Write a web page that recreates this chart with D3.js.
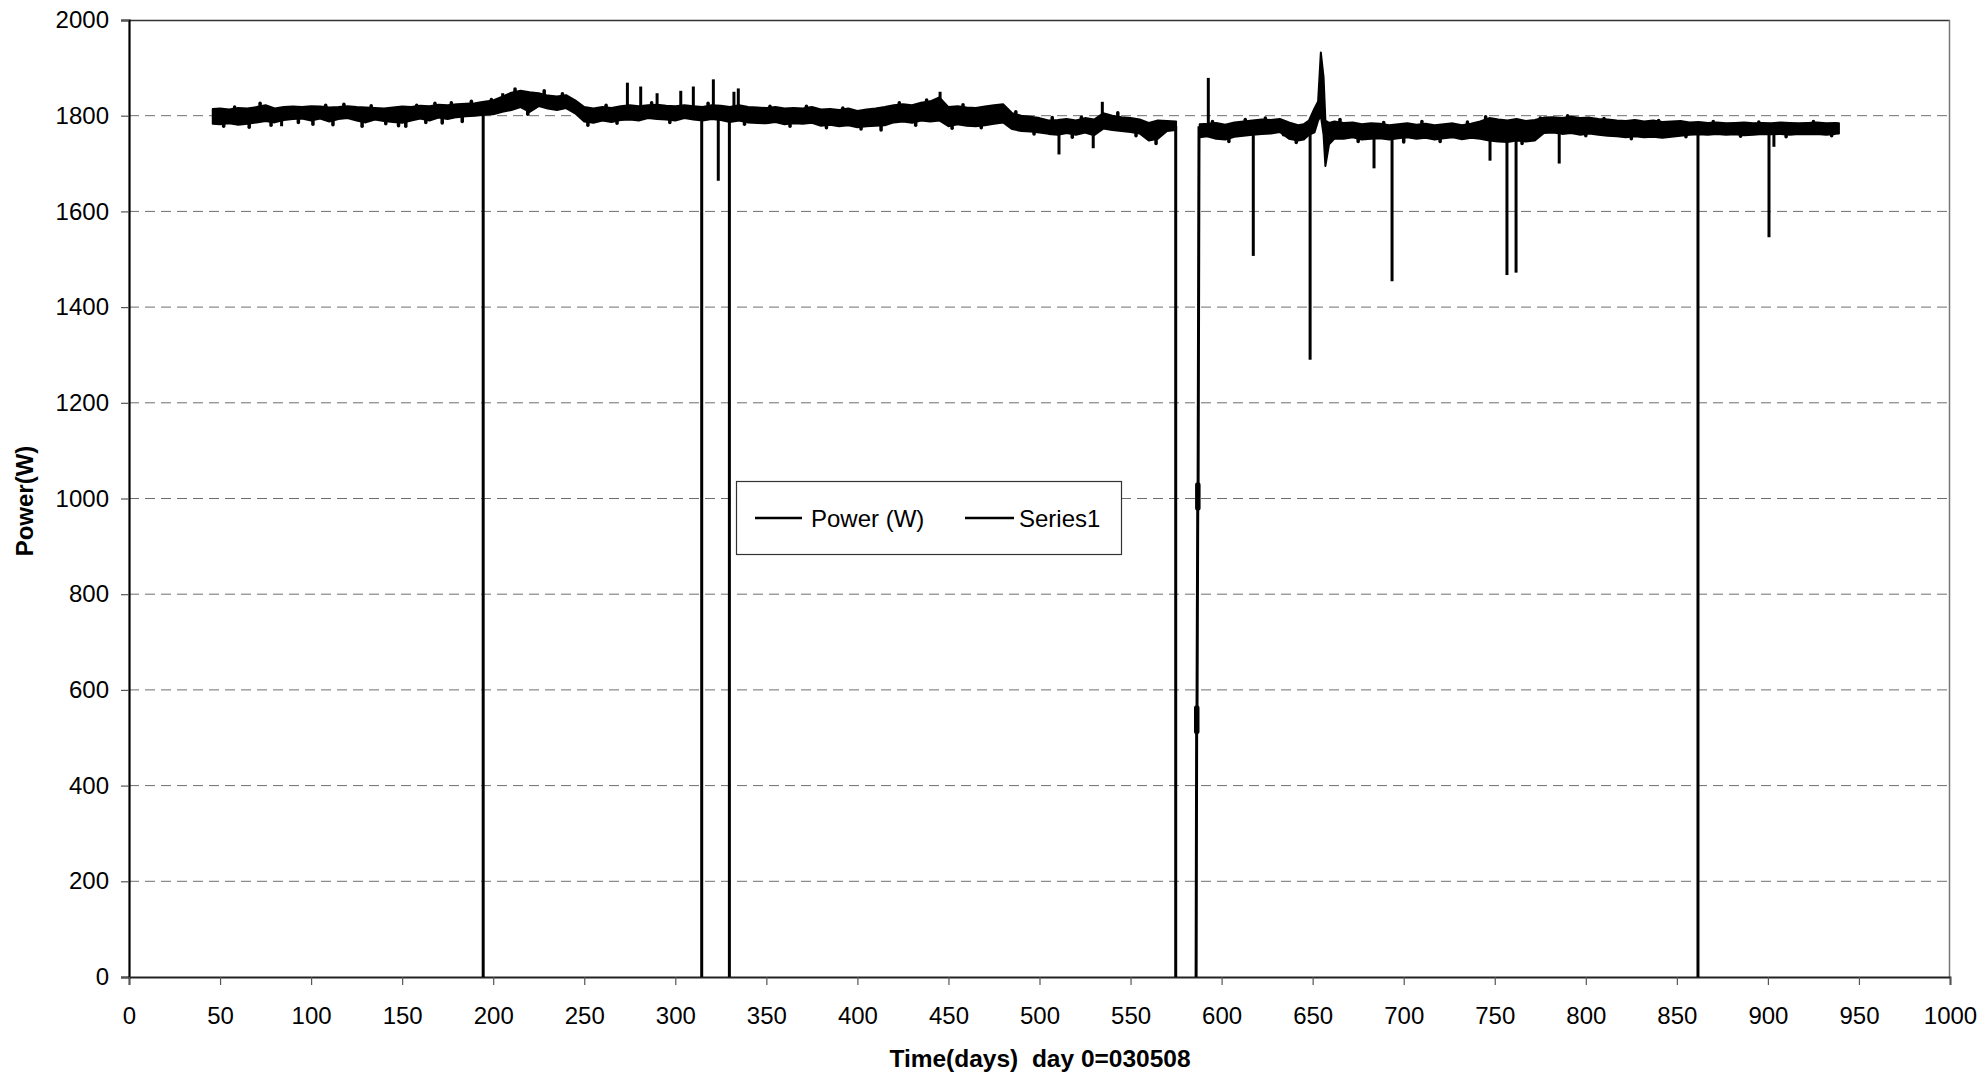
<!DOCTYPE html>
<html>
<head>
<meta charset="utf-8">
<script src="https://cdn.jsdelivr.net/npm/d3@7"></script>
<style>
  html, body { margin: 0; padding: 0; background: #fff; }
  svg { display: block; }
  text { font-family: "Liberation Sans", Arial, sans-serif; fill: #000; }
</style>
</head>
<body>
<svg id="chart" width="1986" height="1077"></svg>
<script>
// ---------------- DATA ----------------
const xTicks = [0,50,100,150,200,250,300,350,400,450,500,550,600,650,700,750,800,850,900,950,1000];
const yTicks = [0,200,400,600,800,1000,1200,1400,1600,1800,2000];
const seriesNames = ["Power (W)", "Series1"];

// Band of the noisy power trace: day, upper and lower envelope (W). null = no data.
const bandDay = [46,50,55,60,65,70,75,80,85,90,95,100,105,110,115,120,125,130,135,140,145,150,155,160,165,170,175,180,185,190,195,200,205,210,215,220,225,230,235,240,245,250,255,260,265,270,275,280,285,290,295,300,305,310,315,320,325,330,335,340,345,350,355,360,365,370,375,380,385,390,395,400,405,410,415,420,425,430,435,440,445,450,455,460,465,470,475,480,485,490,495,500,505,510,515,520,525,530,535,540,545,550,555,560,565,570,575,
  580,
  588,592,597,602,607,612,617,622,627,632,637,642,645,648,651,653,654.5,656,657,659,662,667,672,677,682,687,692,697,702,707,712,717,722,727,732,737,742,747,752,757,762,767,772,777,782,787,792,797,802,807,812,817,822,827,832,837,842,847,852,857,862,867,872,877,882,887,892,897,902,907,912,917,922,927,932,937,939];
const bandHigh = [1814,1815,1813,1816,1815,1818,1822,1815,1818,1819,1818,1820,1819,1817,1818,1820,1818,1817,1816,1815,1817,1819,1818,1821,1820,1823,1822,1824,1825,1826,1829,1832,1840,1848,1852,1849,1847,1842,1840,1843,1832,1818,1815,1818,1816,1820,1822,1820,1822,1823,1821,1820,1822,1820,1818,1822,1821,1818,1822,1818,1817,1816,1818,1815,1816,1815,1818,1813,1814,1812,1815,1810,1813,1815,1818,1822,1824,1822,1827,1830,1838,1818,1820,1817,1816,1819,1822,1824,1805,1800,1798,1795,1790,1791,1793,1790,1795,1792,1805,1800,1797,1795,1792,1785,1790,1789,1788,
  null,
  1782,1783,1785,1781,1786,1788,1790,1792,1791,1793,1786,1780,1782,1790,1815,1830,1932,1880,1790,1785,1788,1785,1786,1782,1784,1783,1780,1782,1784,1781,1783,1780,1782,1784,1780,1783,1788,1795,1792,1790,1793,1789,1791,1796,1797,1795,1798,1795,1796,1793,1792,1790,1789,1791,1788,1790,1787,1788,1789,1786,1787,1785,1786,1784,1785,1786,1784,1785,1784,1786,1785,1784,1785,1786,1784,1785,1784];
const bandLow = [1783,1782,1784,1781,1783,1786,1789,1786,1791,1793,1794,1790,1794,1788,1793,1795,1790,1786,1792,1789,1787,1785,1790,1794,1790,1796,1793,1797,1799,1800,1802,1803,1808,1812,1818,1808,1820,1815,1812,1816,1805,1788,1785,1790,1787,1791,1792,1790,1795,1793,1792,1790,1795,1792,1790,1793,1791,1787,1790,1786,1785,1784,1787,1782,1784,1783,1785,1779,1781,1778,1780,1776,1778,1779,1780,1786,1788,1785,1790,1788,1790,1778,1782,1779,1778,1780,1783,1786,1772,1768,1767,1765,1762,1760,1764,1760,1765,1759,1773,1770,1768,1766,1763,1748,1752,1768,1770,
  null,
  1755,1757,1752,1750,1756,1758,1760,1762,1763,1766,1752,1748,1750,1760,1765,1790,1800,1760,1695,1740,1752,1752,1755,1750,1752,1753,1750,1753,1755,1752,1754,1750,1753,1755,1751,1754,1752,1748,1746,1745,1748,1746,1748,1764,1765,1762,1764,1760,1763,1760,1758,1757,1755,1757,1755,1756,1754,1756,1758,1760,1761,1760,1762,1760,1761,1759,1760,1762,1761,1762,1760,1762,1761,1762,1760,1762,1763];

// Isolated excursions of the trace: day, level it leaves from, value it reaches (W)
const spikeDay  = [83.8,194.5,205.2,273.7,281,290,303,309.9,314.5,320.9,323.6,329.7,332.2,334.6,445.4,510.7,529.5,534.5,574.8,592.7,617.4,648.6,683.7,693.6,747.4,756.7,761.7,785.4,861.6,900.6,903.3];
const spikeBase = [1795,1810,1820,1805,1805,1805,1805,1805,1805,1805,1805,1805,1805,1805,1805,1770,1770,1785,1778,1770,1770,1770,1768,1768,1770,1770,1770,1778,1772,1772,1772];
const spikeTip  = [1778,0,1847,1869,1861,1847,1852,1861,0,1876,1664,0,1850,1857,1850,1719,1732,1829,0,1879,1507,1290,1690,1454,1706,1467,1472,1700,0,1546,1735];

// Small flicker of the trace beyond the band edges: day, level, reached value (W)
const flickerDay  = [52,58,66,72,78,93,101,108,112,118,128,133,141,148,152,158,163,168,172,177,183,188,199,212,219,228,238,252,262,268,287,297,318,338,352,363,372,383,392,402,413,423,432,438,452,458,468,487,497,507,518,523,543,553,564,595,604,613,624,634,641,665,675,689,700,710,720,735,745,765,775,790,800,810,825,840,855,870,885,895,910,925,935];
const flickerBase = [1800,1800,1800,1805,1800,1805,1805,1805,1805,1805,1805,1805,1805,1805,1805,1805,1808,1808,1810,1810,1812,1812,1815,1830,1830,1830,1828,1802,1802,1805,1808,1805,1805,1802,1800,1798,1800,1796,1795,1793,1797,1805,1803,1808,1798,1798,1800,1785,1782,1775,1775,1777,1785,1780,1770,1770,1768,1773,1777,1779,1764,1770,1768,1767,1765,1768,1765,1767,1768,1770,1770,1780,1780,1776,1774,1772,1772,1773,1773,1773,1773,1773,1773];
const flickerTip  = [1778,1818,1776,1826,1780,1786,1782,1822,1781,1824,1778,1821,1783,1779,1778,1822,1786,1826,1785,1827,1788,1830,1834,1856,1803,1852,1846,1780,1822,1784,1827,1786,1826,1782,1820,1778,1820,1775,1816,1772,1770,1827,1780,1833,1774,1823,1775,1808,1762,1796,1755,1797,1806,1758,1742,1788,1746,1792,1795,1760,1744,1792,1746,1786,1745,1788,1746,1787,1798,1742,1795,1800,1758,1794,1752,1790,1756,1788,1757,1787,1756,1788,1758];

// Recovery after the outage near day 586 (day, W)
const recoveryDay   = [586.0,586.3,586.5,586.9,587.1,587.6];
const recoveryPower = [0,513,562,980,1028,1778];
// Thicker clusters of points on that recovery (day, low W, high W)
const clusterDay  = [586.35,586.95];
const clusterLow  = [513,980];
const clusterHigh = [562,1028];

// ---------------- LAYOUT ----------------
const L = 129, R = 1950, T = 20, B = 977;
const svg = d3.select("#chart");

const x = d3.scaleLinear().domain([0, 1000]).range([L, R]);
const y = d3.scaleLinear().domain([0, 2000]).range([B, T]);

// gridlines
svg.append("g").selectAll("line")
  .data(yTicks.filter(v => v > 0 && v < 2000))
  .join("line")
  .attr("x1", L).attr("x2", R)
  .attr("y1", d => y(d)).attr("y2", d => y(d))
  .attr("stroke", "#6e6e6e").attr("stroke-width", 1)
  .attr("stroke-dasharray", "10,6");

// plot frame (top/right)
svg.append("line").attr("x1", L).attr("x2", R).attr("y1", T + 0.5).attr("y2", T + 0.5)
  .attr("stroke", "#333").attr("stroke-width", 1.3);
svg.append("line").attr("x1", R - 0.5).attr("x2", R - 0.5).attr("y1", T).attr("y2", B)
  .attr("stroke", "#777").attr("stroke-width", 1.5);

// axes
const yAxis = d3.axisLeft(y).tickValues(yTicks).tickSize(8).tickPadding(12).tickFormat(d3.format("d"));
const gy = svg.append("g").attr("transform", `translate(${L},0)`).call(yAxis);
gy.select(".domain").attr("stroke", "#000").attr("stroke-width", 2.2);
gy.selectAll(".tick line").attr("stroke", "#555").attr("stroke-width", 1.2);
gy.selectAll(".tick text").attr("font-size", 24).attr("font-family", "Liberation Sans, Arial, sans-serif").attr("fill", "#000");

const xAxis = d3.axisBottom(x).tickValues(xTicks).tickSize(8).tickPadding(22).tickFormat(d3.format("d"));
const gx = svg.append("g").attr("transform", `translate(0,${B})`).call(xAxis);
gx.select(".domain").attr("stroke", "#222").attr("stroke-width", 1.8);
gx.selectAll(".tick line").attr("stroke", "#555").attr("stroke-width", 1.2);
gx.selectAll(".tick text").attr("font-size", 24).attr("font-family", "Liberation Sans, Arial, sans-serif").attr("fill", "#000");

// axis titles
svg.append("text")
  .attr("transform", `translate(33,501) rotate(-90)`)
  .attr("text-anchor", "middle")
  .attr("font-size", 24).attr("font-weight", "bold")
  .text("Power(W)");
svg.append("text")
  .attr("x", 1040).attr("y", 1067)
  .attr("text-anchor", "middle")
  .attr("font-size", 24.5).attr("font-weight", "bold")
  .style("white-space", "pre")
  .attr("xml:space", "preserve")
  .text("Time(days)  day 0=030508");

// ---------------- SERIES ----------------
const band = bandDay.map((d, i) => ({ d, hi: bandHigh[i], lo: bandLow[i] }));
const area = d3.area()
  .defined(p => p.hi !== null && p.lo !== null)
  .x(p => x(p.d)).y0(p => y(p.lo)).y1(p => y(p.hi));
svg.append("path").datum(band).attr("d", area)
  .attr("fill", "#000").attr("stroke", "#000").attr("stroke-width", 2).attr("stroke-linejoin", "round");

// flicker
svg.append("g").selectAll("line")
  .data(flickerDay.map((d, i) => ({ d, b: flickerBase[i], t: flickerTip[i] })))
  .join("line")
  .attr("x1", p => x(p.d)).attr("x2", p => x(p.d))
  .attr("y1", p => y(p.b)).attr("y2", p => y(p.t))
  .attr("stroke", "#000").attr("stroke-width", 3.5).attr("stroke-linecap", "round");

// spikes
svg.append("g").selectAll("line")
  .data(spikeDay.map((d, i) => ({ d, b: spikeBase[i], t: spikeTip[i] })))
  .join("line")
  .attr("x1", p => x(p.d)).attr("x2", p => x(p.d))
  .attr("y1", p => y(p.b)).attr("y2", p => y(p.t))
  .attr("stroke", "#000").attr("stroke-width", 3).attr("stroke-linecap", "butt");

// recovery line
const rec = recoveryDay.map((d, i) => ({ d, v: recoveryPower[i] }));
svg.append("path").datum(rec)
  .attr("d", d3.line().x(p => x(p.d)).y(p => y(p.v)))
  .attr("fill", "none").attr("stroke", "#000").attr("stroke-width", 3);
svg.append("g").selectAll("line")
  .data(clusterDay.map((d, i) => ({ d, lo: clusterLow[i], hi: clusterHigh[i] })))
  .join("line")
  .attr("x1", p => x(p.d)).attr("x2", p => x(p.d))
  .attr("y1", p => y(p.lo)).attr("y2", p => y(p.hi))
  .attr("stroke", "#000").attr("stroke-width", 5.5).attr("stroke-linecap", "round");

// ---------------- LEGEND ----------------
const lg = svg.append("g");
lg.append("rect").attr("x", 736.5).attr("y", 481.5).attr("width", 385).attr("height", 73)
  .attr("fill", "#fff").attr("stroke", "#333").attr("stroke-width", 1.2);
const legendItems = [
  { name: seriesNames[0], x1: 755, x2: 802, tx: 811 },
  { name: seriesNames[1], x1: 965, x2: 1014, tx: 1019 }
];
legendItems.forEach(it => {
  lg.append("line").attr("x1", it.x1).attr("x2", it.x2).attr("y1", 518).attr("y2", 518)
    .attr("stroke", "#000").attr("stroke-width", 2.5);
  lg.append("text").attr("x", it.tx).attr("y", 526.5).attr("font-size", 24).text(it.name);
});
</script>
</body>
</html>
